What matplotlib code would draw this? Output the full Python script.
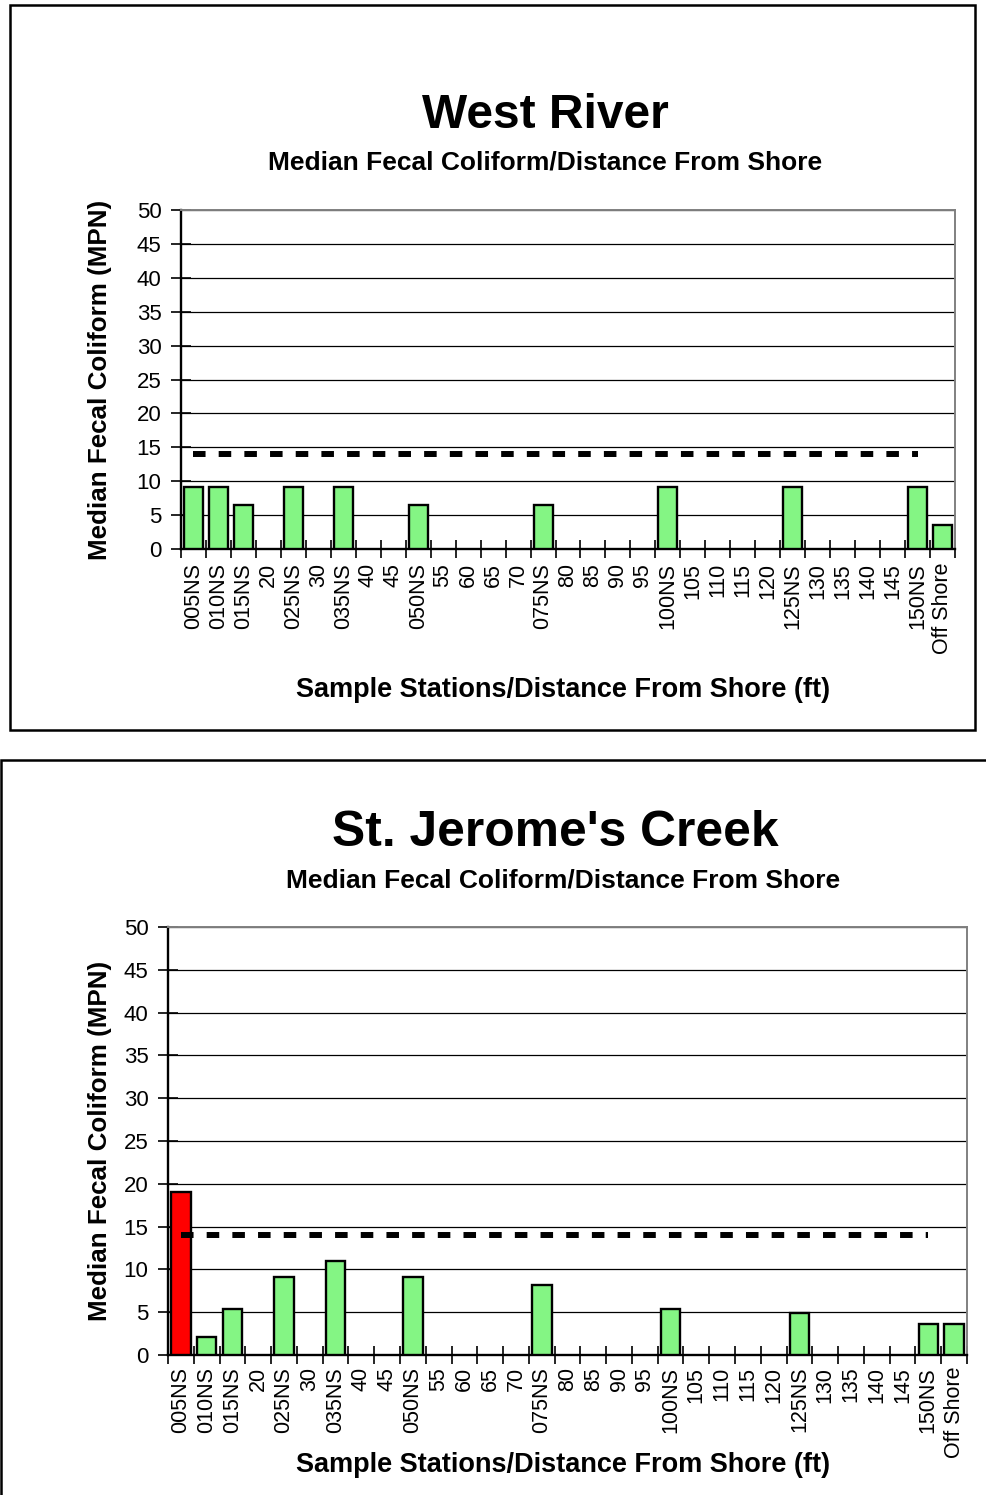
import matplotlib.pyplot as plt
import numpy as np
from matplotlib.patches import Rectangle

# stations along the x axis
stations = ["005NS", "010NS", "015NS", "20", "025NS", "30", "035NS", "40", "45",
            "050NS", "55", "60", "65", "70", "075NS", "80", "85", "90", "95",
            "100NS", "105", "110", "115", "120", "125NS", "130", "135", "140",
            "145", "150NS", "Off Shore"]

# median fecal coliform (MPN), None = no sample
west_river = [9.1, 9.1, 6.5, None, 9.1, None, 9.1, None, None,
              6.5, None, None, None, None, 6.5, None, None, None, None,
              9.1, None, None, None, None, 9.1, None, None, None,
              None, 9.1, 3.5]
st_jerome = [19, 2.1, 5.4, None, 9.1, None, 11, None, None,
             9.1, None, None, None, None, 8.2, None, None, None, None,
             5.4, None, None, None, None, 4.9, None, None, None,
             None, 3.6, 3.6]

standard = 14          # dashed standard line
standard_end = "150NS"  # the line runs from the first station to this one
y_ticks = [0, 5, 10, 15, 20, 25, 30, 35, 40, 45, 50]

FONT = "Liberation Sans"
W, H = 986, 1495


def fx(px):
    return px / W


def fy(py):
    return 1 - py / H


def draw_panel(fig, box, ax_px, values, title, title_x, title_y, title_size,
               sub_x, sub_y, ylab_x, xlab_y, xpad):
    # outer frame of the panel
    x0, y0, x1, y1 = box
    fig.patches.append(Rectangle((fx(x0), fy(y1)), fx(x1 - x0), (y1 - y0) / H,
                                 transform=fig.transFigure, fill=False,
                                 edgecolor="black", linewidth=1.8, zorder=0))

    l, t, r, b = ax_px
    ax = fig.add_axes([fx(l), fy(b), fx(r - l), (b - t) / H])

    x = np.arange(len(stations))
    for i, v in enumerate(values):
        if v is None:
            continue
        col = "#ff0000" if v > standard else "#84f584"
        ax.bar(x[i], v, 0.76, color=col, edgecolor="black", linewidth=1.7, zorder=3)

    end = stations.index(standard_end)
    ax.plot([x[0], x[end]], [standard, standard], color="black", linewidth=4.3,
            linestyle=(0, (2.1, 2.2)), solid_capstyle="butt", dash_capstyle="butt", zorder=4)

    ax.set_xlim(-0.5, len(stations) - 0.5)
    ax.set_ylim(0, 50)
    ax.set_yticks(y_ticks)
    ax.set_yticklabels([str(v) for v in y_ticks], fontsize=16, family=FONT)
    ax.yaxis.grid(True, color="black", linewidth=0.9)
    ax.set_axisbelow(True)

    ax.set_xticks(x)
    ax.set_xticklabels(stations, rotation=90, fontsize=15.5, family=FONT)
    ax.set_xticks(np.arange(-0.5, len(stations)), minor=True)
    ax.tick_params(axis="x", which="major", length=0, pad=xpad)
    ax.tick_params(axis="x", which="minor", length=13, direction="inout", width=1.2)
    ax.tick_params(axis="y", length=14, direction="inout", width=1.2, pad=7)

    for s in ("top", "right"):
        ax.spines[s].set_color("#808080")
        ax.spines[s].set_linewidth(1.4)
    for s in ("left", "bottom"):
        ax.spines[s].set_color("black")
        ax.spines[s].set_linewidth(1.7)

    fig.text(fx(title_x), fy(title_y), title, ha="center", va="center",
             fontsize=title_size, fontweight="bold", family=FONT)
    fig.text(fx(sub_x), fy(sub_y), "Median Fecal Coliform/Distance From Shore",
             ha="center", va="center", fontsize=19, fontweight="bold", family=FONT)
    fig.text(fx(ylab_x), fy((t + b) / 2), "Median Fecal Coliform (MPN)", rotation=90,
             ha="center", va="center", fontsize=18.7, fontweight="bold", family=FONT)
    fig.text(fx(563), fy(xlab_y), "Sample Stations/Distance From Shore (ft)",
             ha="center", va="center", fontsize=19.5, fontweight="bold", family=FONT)
    return ax


fig = plt.figure(figsize=(W / 100, H / 100), dpi=100)

draw_panel(fig, (10, 5, 975, 730), (181, 210, 955, 549), west_river,
           "West River", 545, 115, 34.5, 545, 163, 100, 690, 10)
draw_panel(fig, (1, 760, 1010, 1520), (168, 927, 967, 1355), st_jerome,
           "St. Jerome's Creek", 555, 833, 35.8, 563, 881, 100, 1465, 8.5)

fig.savefig("out.png", dpi=100)
